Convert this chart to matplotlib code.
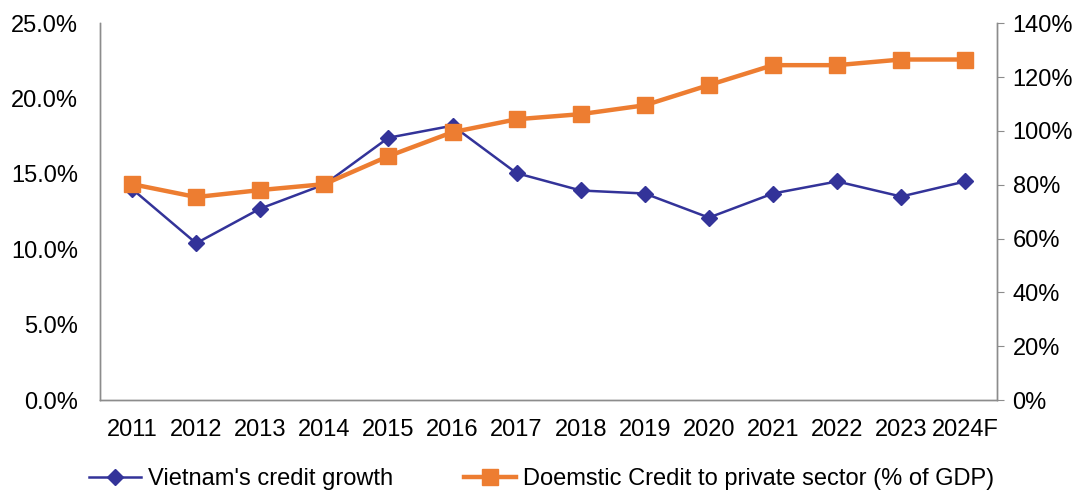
import numpy as np
import matplotlib.pyplot as plt
from matplotlib.ticker import FuncFormatter, MultipleLocator

plt.rcParams['font.family'] = ['Liberation Sans', 'DejaVu Sans']

years = ['2011', '2012', '2013', '2014', '2015', '2016', '2017',
         '2018', '2019', '2020', '2021', '2022', '2023', '2024F']
credit_growth = [14.0, 10.4, 12.7, 14.3, 17.4, 18.2, 15.05,
                 13.9, 13.7, 12.1, 13.7, 14.5, 13.5, 14.5]
credit_gdp = [80.2, 75.4, 78.0, 80.2, 90.6, 99.5, 104.3,
              106.2, 109.5, 117.0, 124.4, 124.4, 126.5, 126.5]

blue = '#333399'
orange = '#ED7D31'
grey = '#8c8c8c'

fig = plt.figure(figsize=(10.84, 4.93), dpi=100)
ax = fig.add_axes([0.0923, 0.1886, 0.8277, 0.7644])
ax2 = ax.twinx()

x = np.arange(len(years))
l1, = ax.plot(x, credit_growth, color=blue, lw=1.8, marker='D', ms=8.5,
              label="Vietnam's credit growth")
l2, = ax2.plot(x, credit_gdp, color=orange, lw=3.2, marker='s', ms=12,
               label='Doemstic Credit to private sector (% of GDP)')

ax.set_xlim(-0.5, len(years) - 0.5)
ax.set_ylim(0, 25)
ax2.set_ylim(0, 140)
ax.yaxis.set_major_locator(MultipleLocator(5))
ax2.yaxis.set_major_locator(MultipleLocator(20))
ax.yaxis.set_major_formatter(FuncFormatter(lambda v, p: f'{v:.1f}%'))
ax2.yaxis.set_major_formatter(FuncFormatter(lambda v, p: f'{v:.0f}%'))

ax.set_xticks(x)
ax.set_xticklabels(years)

for a in (ax, ax2):
    a.spines['top'].set_visible(False)
    for s in ('left', 'right', 'bottom'):
        a.spines[s].set_color(grey)
        a.spines[s].set_linewidth(1.0)
    a.tick_params(labelsize=17, colors='black')

ax.tick_params(axis='y', length=0, pad=16)
ax.tick_params(axis='x', length=0, pad=14)
ax2.tick_params(axis='y', length=5, color=grey, pad=6)

fig.legend([l1, l2], [l1.get_label(), l2.get_label()], loc='center',
           bbox_to_anchor=(0.5, 0.028), ncol=2, frameon=False, fontsize=17,
           handlelength=2.2, handletextpad=0.3, columnspacing=3.0)

fig.savefig('out.png', dpi=100)
